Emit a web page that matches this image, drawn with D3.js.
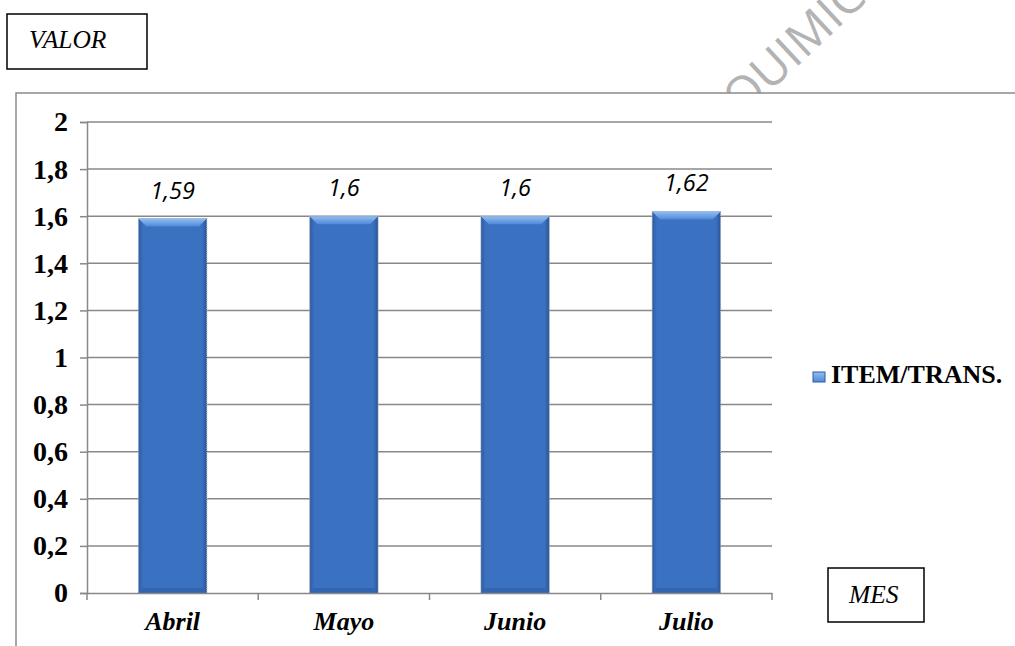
<!DOCTYPE html>
<html>
<head>
<meta charset="utf-8">
<script src="https://cdn.jsdelivr.net/npm/d3@7/dist/d3.min.js"></script>
<style>
  body { margin: 0; background: #fff; }
  svg { display: block; }
</style>
</head>
<body>
<div id="chart"></div>
<script>
// data
const months = ["Abril", "Mayo", "Junio", "Julio"];
const itemTrans = [1.59, 1.6, 1.6, 1.62];
const valueLabels = ["1,59", "1,6", "1,6", "1,62"];
const yTicks = [0, 0.2, 0.4, 0.6, 0.8, 1, 1.2, 1.4, 1.6, 1.8, 2];
const seriesName = "ITEM/TRANS.";

const W = 1015, H = 646;
const plot = {left: 87, right: 772, top: 122, bottom: 593};

const svg = d3.select("#chart").append("svg")
    .attr("width", W)
    .attr("height", H);

const comma = d3.formatLocale({decimal: ",", thousands: ".", grouping: [3], currency: ["", ""]}).format("~g");

// gradients for the bevelled bars
const defs = svg.append("defs");
const bodyGrad = defs.append("linearGradient").attr("id", "barBody")
    .attr("x1", "0").attr("x2", "1").attr("y1", "0").attr("y2", "0");
bodyGrad.append("stop").attr("offset", "0").attr("stop-color", "#2d5ca3");
bodyGrad.append("stop").attr("offset", "0.07").attr("stop-color", "#3b71c1");
bodyGrad.append("stop").attr("offset", "0.93").attr("stop-color", "#3b71c1");
bodyGrad.append("stop").attr("offset", "1").attr("stop-color", "#2a5496");
const topGrad = defs.append("linearGradient").attr("id", "barTop")
    .attr("x1", "0").attr("x2", "0").attr("y1", "0").attr("y2", "1");
topGrad.append("stop").attr("offset", "0").attr("stop-color", "#93bff0");
topGrad.append("stop").attr("offset", "1").attr("stop-color", "#4f89d8");

// watermark (sits behind the chart area)
svg.append("text")
    .attr("transform", "translate(742,118) rotate(-43)")
    .attr("font-family", "'Open Sans', sans-serif")
    .attr("font-size", 48)
    .attr("fill", "#b3b3b3")
    .text("QUIMICO");

// chart area + frame
svg.append("rect")
    .attr("x", 16).attr("y", 93)
    .attr("width", W + 20).attr("height", H + 20)
    .attr("fill", "#fff")
    .attr("stroke", "#8a8a8a")
    .attr("stroke-width", 1.5);

const x = d3.scaleBand()
    .domain(months)
    .range([plot.left, plot.right])
    .paddingInner(0.6)
    .paddingOuter(0.3);

const y = d3.scaleLinear()
    .domain([0, 2])
    .range([plot.bottom, plot.top]);

// gridlines
svg.append("g")
    .selectAll("line")
    .data(yTicks.filter(d => d > 0))
    .enter()
    .append("line")
        .attr("x1", plot.left).attr("x2", plot.right)
        .attr("y1", d => y(d)).attr("y2", d => y(d))
        .attr("stroke", "#888")
        .attr("stroke-width", 1.5);

// y axis
const yAxis = svg.append("g")
    .attr("transform", `translate(${plot.left},0)`)
    .call(d3.axisLeft(y).tickValues(yTicks).tickFormat(comma).tickSize(7).tickPadding(12));
yAxis.select(".domain").attr("stroke", "#888").attr("stroke-width", 1.5);
yAxis.selectAll(".tick line").attr("stroke", "#888").attr("stroke-width", 1.5);
yAxis.selectAll(".tick text")
    .attr("font-family", "'Liberation Serif', 'Times New Roman', serif")
    .attr("font-weight", "bold")
    .attr("font-size", 28)
    .attr("fill", "#000");

// bars
const bars = svg.append("g")
    .selectAll("g")
    .data(months.map((m, i) => ({m: m, v: itemTrans[i], lab: valueLabels[i]})))
    .enter()
    .append("g");

bars.append("rect")
    .attr("x", d => x(d.m))
    .attr("y", d => y(d.v))
    .attr("width", x.bandwidth())
    .attr("height", d => y(0) - y(d.v))
    .attr("fill", "url(#barBody)")
    .attr("stroke", "#b5b5b5")
    .attr("stroke-width", 1)
    .attr("stroke-dasharray", "1,1");

// top bevel
const bev = 8;
bars.append("path")
    .attr("d", d => {
        const x0 = x(d.m), x1 = x0 + x.bandwidth(), t = y(d.v);
        return `M${x0},${t}L${x1},${t}L${x1 - bev},${t + bev}L${x0 + bev},${t + bev}Z`;
    })
    .attr("fill", "url(#barTop)");

// bottom bevel
bars.append("path")
    .attr("d", d => {
        const x0 = x(d.m), x1 = x0 + x.bandwidth(), b = y(0);
        return `M${x0},${b}L${x1},${b}L${x1 - 5},${b - 5}L${x0 + 5},${b - 5}Z`;
    })
    .attr("fill", "#3264b0");

// value labels
bars.append("text")
    .attr("x", d => x(d.m) + x.bandwidth() / 2)
    .attr("y", d => y(d.v) - 20)
    .attr("text-anchor", "middle")
    .attr("font-family", "'Open Sans', sans-serif")
    .attr("font-style", "italic")
    .attr("font-size", 23.5)
    .attr("fill", "#000")
    .text(d => d.lab);

// x axis
const xAxis = svg.append("g")
    .attr("transform", `translate(0,${plot.bottom})`)
    .call(d3.axisBottom(x).tickSize(0).tickPadding(19));
xAxis.select(".domain").attr("stroke", "#888").attr("stroke-width", 1.5);
xAxis.selectAll(".tick text")
    .attr("font-family", "'Liberation Serif', 'Times New Roman', serif")
    .attr("font-weight", "bold")
    .attr("font-style", "italic")
    .attr("font-size", 26)
    .attr("fill", "#000");

// category boundary ticks
const bounds = months.map(m => x(m) - x.step() * x.paddingInner() / 2);
bounds.push(plot.right);
bounds[0] = plot.left;
xAxis.append("g")
    .selectAll("line")
    .data(bounds)
    .enter()
    .append("line")
        .attr("x1", d => d).attr("x2", d => d)
        .attr("y1", 0).attr("y2", 7)
        .attr("stroke", "#888")
        .attr("stroke-width", 1.5);

// legend
const legend = svg.append("g").attr("transform", "translate(813,372)");
legend.append("rect")
    .attr("width", 12).attr("height", 10)
    .attr("fill", "url(#barTop)")
    .attr("stroke", "#2d5aa0")
    .attr("stroke-width", 1);
legend.append("text")
    .attr("x", 18).attr("y", 11)
    .attr("font-family", "'Liberation Serif', 'Times New Roman', serif")
    .attr("font-weight", "bold")
    .attr("font-size", 26)
    .attr("fill", "#000")
    .text(seriesName);

// axis title boxes
function titleBox(bx, by, bw, bh, label, tx, ty) {
    svg.append("rect")
        .attr("x", bx).attr("y", by)
        .attr("width", bw).attr("height", bh)
        .attr("fill", "#fff")
        .attr("stroke", "#000")
        .attr("stroke-width", 1.5);
    svg.append("text")
        .attr("x", tx).attr("y", ty)
        .attr("font-family", "'Liberation Serif', 'Times New Roman', serif")
        .attr("font-style", "italic")
        .attr("font-size", 25.5)
        .attr("fill", "#000")
        .text(label);
}
titleBox(7, 14, 140, 55, "VALOR", 29, 48);
titleBox(828, 568, 96, 54, "MES", 849, 603);
</script>
</body>
</html>
